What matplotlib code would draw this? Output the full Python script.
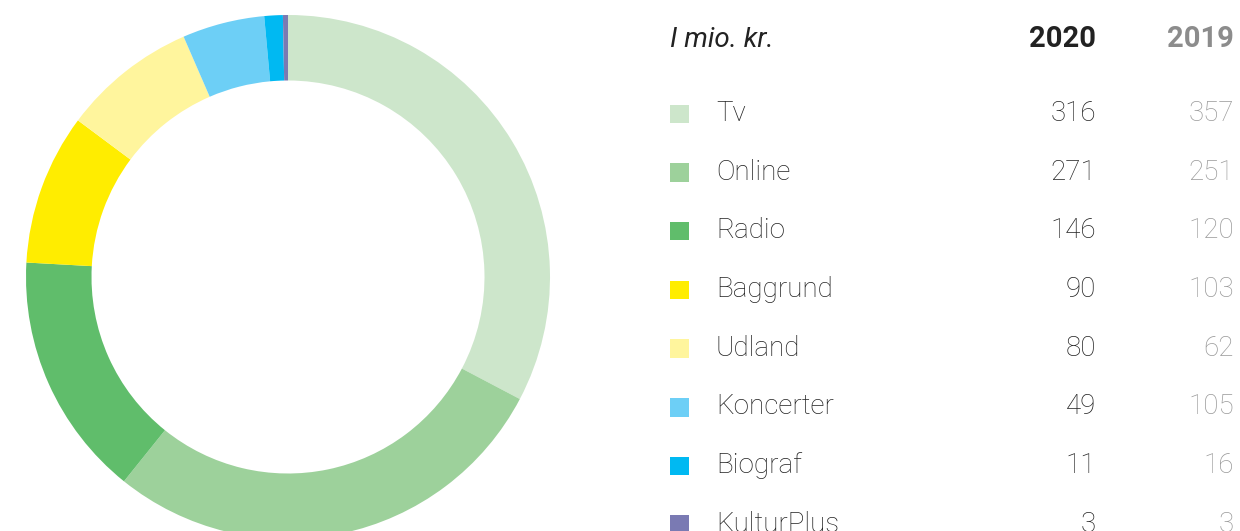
import matplotlib
matplotlib.use("Agg")
import matplotlib.pyplot as plt

categories = ["Tv", "Online", "Radio", "Baggrund", "Udland", "Koncerter", "Biograf", "KulturPlus"]
values_2020 = [316, 271, 146, 90, 80, 49, 11, 3]
values_2019 = [357, 251, 120, 103, 62, 105, 16, 3]
colors = ["#cde6cb", "#9dd19b", "#60bd6b", "#ffed00", "#fff59d", "#6dcff6", "#00b9f2", "#7a7ab3"]
header_label = "I mio. kr."
year_labels = ["2020", "2019"]

W, H = 1240, 531
fig = plt.figure(figsize=(W / 100, H / 100), dpi=100)
ax = fig.add_axes([0, 0, 1, 1])

font = "Roboto"
fs = 20

# donut
cx, cy, R = 288, H - 277, 262
ax.pie(values_2020, colors=colors, startangle=90, counterclock=False,
       center=(cx, cy), radius=R,
       wedgeprops=dict(width=R * 0.25, edgecolor="none", linewidth=0))

ax.set_xlim(0, W)
ax.set_ylim(0, H)
ax.set_aspect("auto")
ax.axis("off")

# table header
hb = H - 47
ax.text(670, hb, header_label, fontsize=fs, fontstyle="italic", family=font,
        color="#222222", ha="left", va="baseline")
ax.text(1096, hb, year_labels[0], fontsize=fs + 1, fontweight="bold", family=font,
        color="#222222", ha="right", va="baseline")
ax.text(1234, hb, year_labels[1], fontsize=fs + 1, fontweight="bold", family=font,
        color="#8c8c8c", ha="right", va="baseline")

row0, step = 121, 58.7
for i, (cat, v20, v19, col) in enumerate(zip(categories, values_2020, values_2019, colors)):
    yb = H - (row0 + i * step)
    ax.add_patch(plt.Rectangle((670, yb - 2), 18.5, 18.5, color=col, lw=0))
    ax.text(716, yb, cat, fontsize=fs, fontweight="light", family=font,
            color="#222222", ha="left", va="baseline")
    ax.text(1096, yb, str(v20), fontsize=fs, fontweight="light", family=font,
            color="#222222", ha="right", va="baseline")
    ax.text(1234, yb, str(v19), fontsize=fs, fontweight="light", family=font,
            color="#999999", ha="right", va="baseline")

fig.savefig("out.png", dpi=100)
